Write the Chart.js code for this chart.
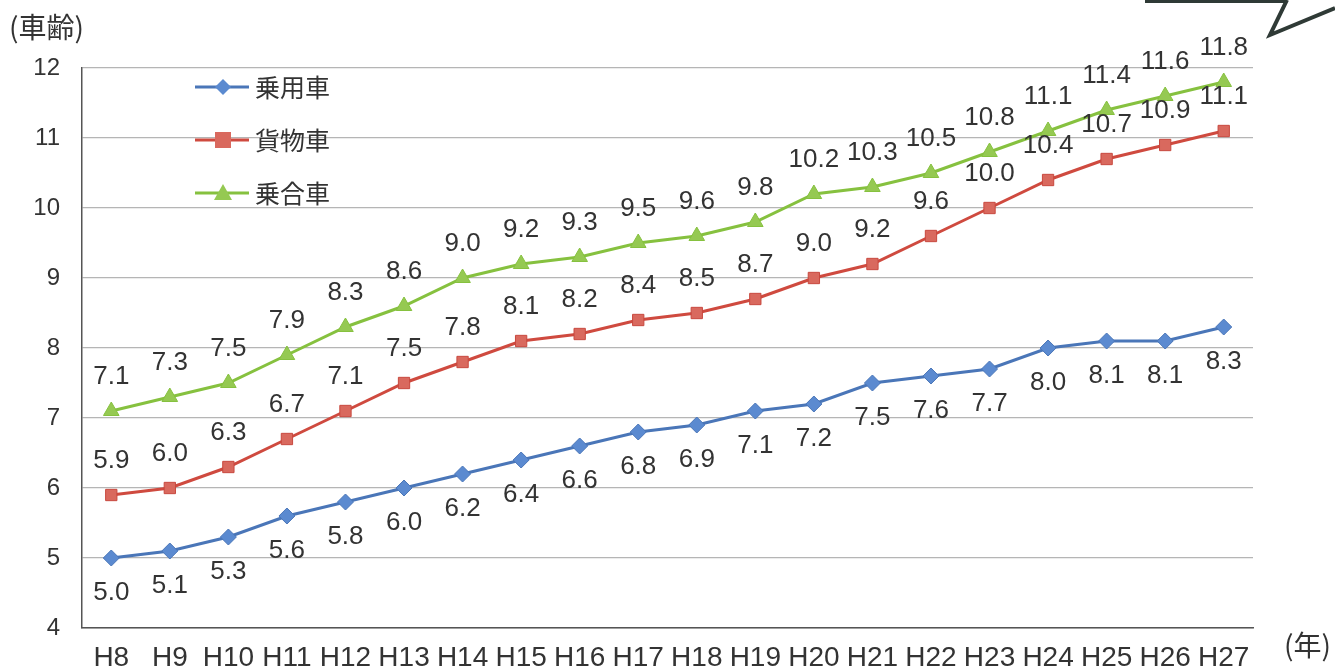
<!DOCTYPE html>
<html>
<head>
<meta charset="utf-8">
<script src="https://cdn.jsdelivr.net/npm/chart.js@4"></script>
<style>
  html, body { margin: 0; padding: 0; background: #fff; }
  #wrap { width: 1335px; height: 669px; }
</style>
</head>
<body>
<div id="wrap"><canvas id="ageChart" width="1335" height="669"></canvas></div>
<script>
const years = ['H8','H9','H10','H11','H12','H13','H14','H15','H16','H17','H18','H19','H20','H21','H22','H23','H24','H25','H26','H27'];
const passenger = [5.0, 5.1, 5.3, 5.6, 5.8, 6.0, 6.2, 6.4, 6.6, 6.8, 6.9, 7.1, 7.2, 7.5, 7.6, 7.7, 8.0, 8.1, 8.1, 8.3];
const freight = [5.9, 6.0, 6.3, 6.7, 7.1, 7.5, 7.8, 8.1, 8.2, 8.4, 8.5, 8.7, 9.0, 9.2, 9.6, 10.0, 10.4, 10.7, 10.9, 11.1];
const bus = [7.1, 7.3, 7.5, 7.9, 8.3, 8.6, 9.0, 9.2, 9.3, 9.5, 9.6, 9.8, 10.2, 10.3, 10.5, 10.8, 11.1, 11.4, 11.6, 11.8];
const seriesNames = ['乗用車', '貨物車', '乗合車'];
const yTicks = [4, 5, 6, 7, 8, 9, 10, 11, 12];

const FONT = "'Liberation Sans', Arial, sans-serif";
const JP = "'Noto Sans CJK JP', sans-serif";
const TEXT = '#333';

// value labels: first series below the point, others above
const valueLabels = {
  id: 'valueLabels',
  afterDatasetsDraw(chart) {
    const ctx = chart.ctx;
    ctx.save();
    ctx.font = '26px ' + FONT;
    ctx.fillStyle = TEXT;
    ctx.textAlign = 'center';
    ctx.textBaseline = 'middle';
    chart.data.datasets.forEach((ds, i) => {
      const meta = chart.getDatasetMeta(i);
      meta.data.forEach((pt, j) => {
        const dy = i === 0 ? 35 : -34;
        ctx.fillText(ds.data[j].toFixed(1), pt.x, pt.y + dy);
      });
    });
    ctx.restore();
  }
};

// legend inside plot + axis titles + corner decoration
const extras = {
  id: 'extras',
  afterDraw(chart) {
    const ctx = chart.ctx;
    ctx.save();
    chart.data.datasets.forEach((ds, i) => {
      const y = 87 + i * 53;
      ctx.strokeStyle = ds.borderColor;
      ctx.lineWidth = 3;
      ctx.beginPath();
      ctx.moveTo(195, y);
      ctx.lineTo(249, y);
      ctx.stroke();
      ctx.fillStyle = ds.backgroundColor;
      const cx = 223;
      ctx.beginPath();
      if (i === 0) {
        ctx.moveTo(cx, y - 8); ctx.lineTo(cx + 8, y); ctx.lineTo(cx, y + 8); ctx.lineTo(cx - 8, y);
      } else if (i === 1) {
        ctx.rect(cx - 8, y - 8, 16, 16);
      } else {
        ctx.moveTo(cx, y - 9); ctx.lineTo(cx + 9, y + 7); ctx.lineTo(cx - 9, y + 7);
      }
      ctx.closePath();
      ctx.fill();
      ctx.fillStyle = TEXT;
      ctx.font = '25px ' + JP;
      ctx.textAlign = 'left';
      ctx.textBaseline = 'middle';
      ctx.fillText(ds.label, 255, y);
    });
    ctx.font = '28px ' + JP;
    ctx.fillStyle = TEXT;
    ctx.textAlign = 'left';
    ctx.textBaseline = 'middle';
    ctx.fillText('(車齢)', 9, 27);
    ctx.fillText('(年)', 1284, 645);
    // scanned corner shape
    ctx.strokeStyle = '#2f3a36';
    ctx.lineWidth = 4;
    ctx.beginPath();
    ctx.moveTo(1145, 1);
    ctx.lineTo(1285, 1);
    ctx.stroke();
    ctx.beginPath();
    ctx.moveTo(1287, 0);
    ctx.lineTo(1270, 35);
    ctx.lineTo(1335, 8);
    ctx.stroke();
    ctx.restore();
  }
};

new Chart(document.getElementById('ageChart'), {
  type: 'line',
  data: {
    labels: years,
    datasets: [
      {
        label: seriesNames[0], data: passenger,
        borderColor: '#4a76b8', backgroundColor: '#5b8ad0',
        borderWidth: 3, pointStyle: 'rectRot', pointRadius: 8,
        pointBorderColor: '#4a76b8', pointBorderWidth: 1, tension: 0
      },
      {
        label: seriesNames[1], data: freight,
        borderColor: '#cf4a3f', backgroundColor: '#d9695e',
        borderWidth: 3, pointStyle: 'rect', pointRadius: 8,
        pointBorderColor: '#c8483e', pointBorderWidth: 1, tension: 0
      },
      {
        label: seriesNames[2], data: bus,
        borderColor: '#86c13f', backgroundColor: '#95c952',
        borderWidth: 3, pointStyle: 'triangle', pointRadius: 9,
        pointBorderColor: '#86c13f', pointBorderWidth: 1, tension: 0
      }
    ]
  },
  options: {
    responsive: false,
    animation: false,
    layout: { padding: { top: 68, right: 82, left: 0, bottom: 0 } },
    plugins: { legend: { display: false }, tooltip: { enabled: false } },
    scales: {
      x: {
        offset: true,
        grid: { display: false, drawTicks: false },
        border: { display: true, color: '#555', width: 1.5 },
        ticks: { color: TEXT, font: { family: FONT, size: 28 }, padding: 13, maxRotation: 0, autoSkip: false },
        afterFit(scale) { scale.height = 41; }
      },
      y: {
        min: 4, max: 12,
        afterBuildTicks(scale) { scale.ticks = yTicks.map(v => ({ value: v })); },
        grid: { color: '#b5b5b5', lineWidth: 1.2, drawTicks: false },
        border: { display: true, color: '#555', width: 1.5 },
        ticks: { color: TEXT, font: { family: FONT, size: 24 }, padding: 22 },
        afterFit(scale) { scale.width = 82; }
      }
    }
  },
  plugins: [valueLabels, extras]
});
</script>
</body>
</html>
